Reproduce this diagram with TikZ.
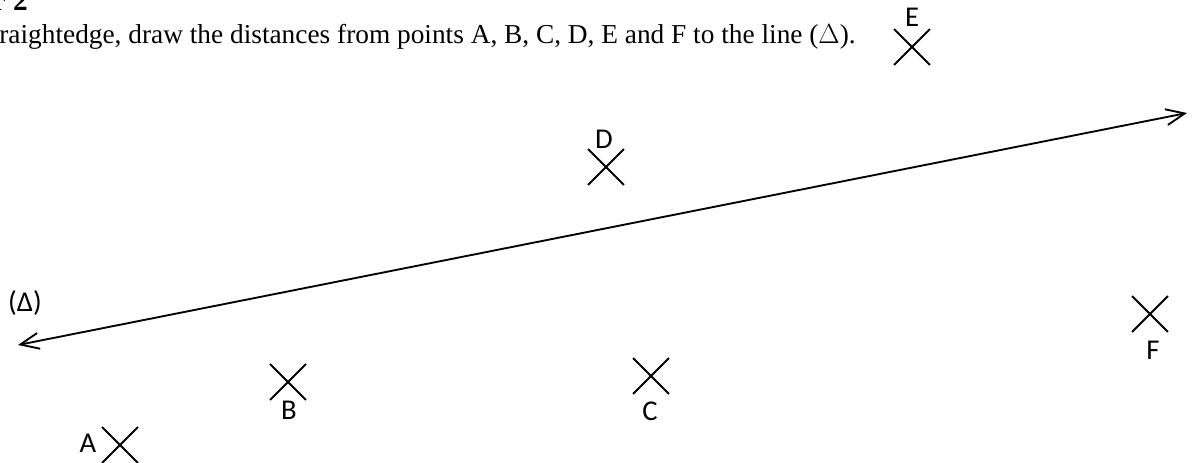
\documentclass[tikz,border=0pt]{standalone}
\usepackage{fontspec}
\setmainfont{Liberation Serif}
\newfontfamily\labfont{Carlito}
\usetikzlibrary{arrows.meta,shapes.misc}
\tikzset{
  pt/.style={cross out, draw, line width=1.4pt, minimum size=25.5pt, inner sep=0pt},
  lbl/.style={inner sep=0pt, font=\labfont\fontsize{21.5}{25}\selectfont},
  txt/.style={inner sep=0pt, font=\rmfamily\fontsize{20.5}{25}\selectfont},
  barb/.tip={Straight Barb[length=14pt,width=12pt,line width=1.4pt]}
}
\begin{document}
\begin{tikzpicture}[x=0.75pt,y=-0.75pt]
\useasboundingbox (0,0) rectangle (1193,463);
\clip (0,0) rectangle (1193,463);
% text
\node[txt, anchor=base east, font=\rmfamily\bfseries\fontsize{22}{26}\selectfont] (head) at (28,11) {r 2};
\node[txt, anchor=base east] (instr) at (856,44) {raightedge, draw the distances from points A, B, C, D, E and F to the line ($\Delta$).};
% the line
\coordinate (L) at (18,345);
\coordinate (R) at (1187,113);
\draw[line width=1.4pt, barb-barb] (L) -- (R);
\node[lbl] (delta) at (25,303) {(Δ)};
% points
\node[pt] (A) at (120,445) {};
\node[lbl] (Alab) at (88,443) {A};
\node[pt] (B) at (288,382) {};
\node[lbl] (Blab) at (289,410) {B};
\node[pt] (C) at (651,376) {};
\node[lbl] (Clab) at (650,411) {C};
\node[pt] (D) at (606,167) {};
\node[lbl] (Dlab) at (604,139) {D};
\node[pt] (E) at (912,47) {};
\node[lbl] (Elab) at (912,17) {E};
\node[pt] (F) at (1150,314) {};
\node[lbl] (Flab) at (1153,350) {F};
\end{tikzpicture}
\end{document}
